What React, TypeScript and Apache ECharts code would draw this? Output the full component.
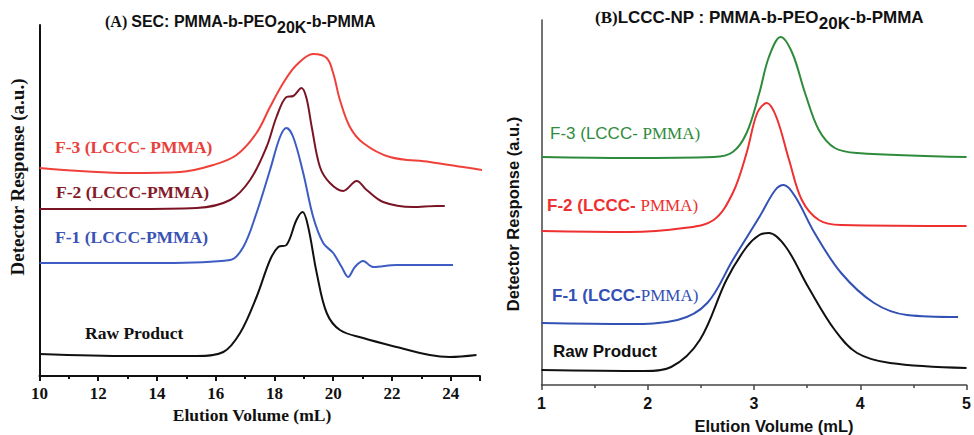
import React, { useEffect, useRef } from "react";
import * as echarts from "echarts";

// ---------- Panel A (SEC) ----------
const secF3X = [10.0, 13.09, 14.79, 15.92, 16.71, 17.39, 17.85, 18.3, 18.75, 19.32, 19.78, 20.0, 20.23, 20.57, 21.02, 21.93, 23.29, 24.42, 25.3];
const secF3Y = [208, 203, 204, 211, 221, 243, 269, 293, 311, 322, 318, 303, 276, 249, 233, 219, 214, 209, 205];

const secF2X = [10.0, 13.09, 15.35, 16.49, 17.17, 17.73, 18.07, 18.41, 18.64, 18.92, 19.09, 19.27, 19.55, 19.89, 20.34, 20.8, 21.14, 21.7, 22.72, 23.52, 23.8];
const secF2Y = [167, 167, 168, 176, 196, 229, 259, 279, 280, 288, 278, 249, 209, 193, 185, 195, 186, 174, 169, 170, 170];

const secF1X = [10.0, 14.22, 16.49, 16.94, 17.39, 17.85, 18.19, 18.41, 18.64, 18.98, 19.32, 19.66, 20.0, 20.29, 20.51, 20.74, 21.02, 21.36, 22.16, 24.08];
const secF1Y = [113, 113, 116, 129, 163, 206, 239, 248, 239, 203, 159, 133, 123, 109, 99, 109, 115, 109, 111, 111];

const secRawX = [10.0, 13.09, 15.35, 16.26, 16.83, 17.39, 17.85, 18.13, 18.41, 18.75, 18.96, 19.15, 19.44, 19.78, 20.23, 21.02, 22.16, 23.29, 23.97, 24.88];
const secRawY = [22, 20, 20, 24, 43, 79, 116, 129, 131, 156, 164, 149, 103, 63, 46, 38, 29, 21, 19, 21];

// ---------- Panel B (LCCC-NP) ----------
const lcF3X = [1.0, 1.82, 2.62, 2.8, 2.93, 3.05, 3.14, 3.25, 3.36, 3.48, 3.61, 3.76, 3.97, 5.0];
const lcF3Y = [228, 227, 228, 233, 252, 292, 328, 348, 332, 292, 255, 237, 232, 228];

const lcF2X = [1.0, 1.82, 2.34, 2.62, 2.8, 2.93, 3.03, 3.12, 3.21, 3.33, 3.45, 3.61, 3.82, 5.0];
const lcF2Y = [154, 153, 157, 165, 192, 232, 272, 282, 268, 225, 185, 165, 160, 159];

const lcF1X = [1.0, 1.82, 2.28, 2.56, 2.8, 3.05, 3.2, 3.28, 3.39, 3.57, 3.82, 4.13, 4.44, 4.92];
const lcF1Y = [62, 61, 65, 82, 125, 168, 195, 200, 188, 152, 112, 82, 70, 68];

const lcRawX = [1.0, 1.97, 2.22, 2.49, 2.74, 2.93, 3.05, 3.14, 3.3, 3.51, 3.76, 3.97, 4.28, 5.0];
const lcRawY = [15, 14, 18, 45, 105, 138, 150, 152, 138, 98, 55, 32, 22, 17];

const xTicksA = [10, 12, 14, 16, 18, 20, 22, 24];
const xTicksB = [1, 2, 3, 4, 5];

const yTitle = "Detector Response (a.u.)";
const xTitle = "Elution Volume (mL)";

const SERIF = '"Liberation Serif", "Times New Roman", serif';
const SANS = '"Liberation Sans", Arial, sans-serif';

const zip = (xs: number[], ys: number[]) => xs.map((x, i) => [x, ys[i]]);

export default function App() {
  const ref = useRef<HTMLDivElement>(null);

  useEffect(() => {
    if (!ref.current) return;
    const chart = echarts.init(ref.current, null, { renderer: "svg" });

    const line = (name: string, data: number[][], color: string, xi: number, width = 2) => ({
      name,
      type: "line",
      xAxisIndex: xi,
      yAxisIndex: xi,
      data,
      showSymbol: false,
      smooth: 0.35,
      clip: false,
      lineStyle: { color, width },
      itemStyle: { color },
    });

    const label = (x: number, y: number, text: string, rich: any) => ({
      type: "text",
      x,
      y,
      style: { text, rich, align: "left", verticalAlign: "middle" },
    });

    const titleRich = (size: number) => ({
      a: { fontFamily: SERIF, fontWeight: "bold", fontSize: size, fill: "#111", verticalAlign: "top", lineHeight: 18 },
      b: { fontFamily: SANS, fontWeight: "bold", fontSize: size, fill: "#111", verticalAlign: "top", lineHeight: 18 },
      s: { fontFamily: SANS, fontWeight: "bold", fontSize: size, fill: "#111", verticalAlign: "top", lineHeight: 18, padding: [6, 0, 0, 0] },
    });

    const xAxisCommon = (minV: number, maxV: number, ticks: number[], serif: boolean, color: string, w: number) => ({
      type: "value",
      min: minV,
      max: maxV,
      interval: ticks[1] - ticks[0],
      axisLine: { show: true, onZero: false, lineStyle: { color, width: w } },
      axisTick: { show: true, length: 5, lineStyle: { color, width: w } },
      minorTick: { show: true, splitNumber: 2, length: 3, lineStyle: { color, width: w } },
      splitLine: { show: false },
      axisLabel: {
        margin: serif ? 9 : 10,
        color: "#111",
        fontFamily: serif ? SERIF : SANS,
        fontWeight: "bold",
        fontSize: serif ? 17 : 16,
        showMaxLabel: serif ? false : true,
        formatter: (v: number) => (ticks.indexOf(v) >= 0 ? String(v) : ""),
      },
    });

    chart.setOption({
      animation: false,
      backgroundColor: "#ffffff",
      grid: [
        { left: 39.5, top: 25, width: 440.5, height: 351 },
        { left: 541.5, top: 20, width: 432, height: 365 },
      ],
      xAxis: [
        { gridIndex: 0, ...xAxisCommon(10, 25, xTicksA, true, "#111", 2) },
        { gridIndex: 1, ...xAxisCommon(1, 5, xTicksB, false, "#444", 1.5) },
      ],
      yAxis: [
        {
          gridIndex: 0, type: "value", min: 0, max: 351,
          axisLine: { show: true, onZero: false, lineStyle: { color: "#111", width: 2 } },
          axisTick: { show: false }, axisLabel: { show: false }, splitLine: { show: false },
        },
        {
          gridIndex: 1, type: "value", min: 0, max: 365,
          axisLine: { show: true, onZero: false, lineStyle: { color: "#444", width: 1.5 } },
          axisTick: { show: false }, axisLabel: { show: false }, splitLine: { show: false },
        },
      ],
      series: [
        line("A F-3", zip(secF3X, secF3Y), "#f0403a", 0),
        line("A F-2", zip(secF2X, secF2Y), "#7a1424", 0),
        line("A F-1", zip(secF1X, secF1Y), "#3d5cc4", 0),
        line("A Raw", zip(secRawX, secRawY), "#111111", 0),
        line("B F-3", zip(lcF3X, lcF3Y), "#2e8b3c", 1),
        line("B F-2", zip(lcF2X, lcF2Y), "#ee3030", 1),
        line("B F-1", zip(lcF1X, lcF1Y), "#3350b4", 1),
        line("B Raw", zip(lcRawX, lcRawY), "#111111", 1),
      ],
      graphic: [
        // titles
        {
          type: "text", x: 105, y: 13.5,
          style: { text: "{a|(A) }{b|SEC: PMMA-b-PEO}{s|20K}{b|-b-PMMA}", rich: titleRich(16), align: "left", verticalAlign: "top" },
        },
        {
          type: "text", x: 595, y: 9,
          style: { text: "{a|(B)}{b|LCCC-NP : PMMA-b-PEO}{s|20K}{b|-b-PMMA}", rich: titleRich(17), align: "left", verticalAlign: "top" },
        },
        // y axis titles
        {
          type: "text", x: 17, y: 177, rotation: Math.PI / 2,
          style: { text: yTitle, fontFamily: SERIF, fontWeight: "bold", fontSize: 19, fill: "#111", align: "center", verticalAlign: "middle" },
        },
        {
          type: "text", x: 513, y: 214, rotation: Math.PI / 2,
          style: { text: yTitle, fontFamily: SANS, fontWeight: "bold", fontSize: 16.5, fill: "#111", align: "center", verticalAlign: "middle" },
        },
        // x axis titles
        {
          type: "text", x: 252, y: 415,
          style: { text: xTitle, fontFamily: SERIF, fontWeight: "bold", fontSize: 17.5, fill: "#111", align: "center", verticalAlign: "middle" },
        },
        {
          type: "text", x: 774, y: 426,
          style: { text: xTitle, fontFamily: SANS, fontWeight: "bold", fontSize: 16.5, fill: "#111", align: "center", verticalAlign: "middle" },
        },
        // panel A labels
        label(55, 147, "{a|F-3 (LCCC- PMMA)}", { a: { fontFamily: SERIF, fontWeight: "bold", fontSize: 17.5, fill: "#e8403a" } }),
        label(56, 192, "{a|F-2 (LCCC-PMMA)}", { a: { fontFamily: SERIF, fontWeight: "bold", fontSize: 17.5, fill: "#84192a" } }),
        label(55, 237, "{a|F-1 (LCCC-PMMA)}", { a: { fontFamily: SERIF, fontWeight: "bold", fontSize: 17.5, fill: "#3a52b4" } }),
        label(85, 333, "{a|Raw Product}", { a: { fontFamily: SERIF, fontWeight: "bold", fontSize: 17.5, fill: "#111" } }),
        // panel B labels
        label(550, 133, "{a|F-3 (LCCC- }{b|PMMA)}", {
          a: { fontFamily: SANS, fontSize: 17, fill: "#2e8b3c" },
          b: { fontFamily: SERIF, fontSize: 17, fill: "#2e8b3c" },
        }),
        label(547, 205, "{a|F-2 (LCCC- }{b|PMMA)}", {
          a: { fontFamily: SANS, fontWeight: "bold", fontSize: 17, fill: "#ee3030" },
          b: { fontFamily: SERIF, fontSize: 17, fill: "#ee3030" },
        }),
        label(552, 295, "{a|F-1 (LCCC-}{b|PMMA)}", {
          a: { fontFamily: SANS, fontWeight: "bold", fontSize: 17, fill: "#3350b4" },
          b: { fontFamily: SERIF, fontSize: 17, fill: "#3350b4" },
        }),
        label(553, 351, "{a|Raw Product}", { a: { fontFamily: SANS, fontWeight: "bold", fontSize: 17, fill: "#111" } }),
      ],
    });

    return () => chart.dispose();
  }, []);

  return <div ref={ref} style={{ position: "absolute", left: 0, top: 0, width: 974, height: 435 }} />;
}
